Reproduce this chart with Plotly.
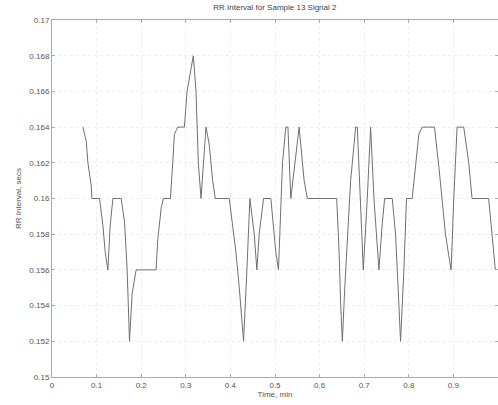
import plotly.graph_objects as go

time_min = [0.0694, 0.0768, 0.0805, 0.0880, 0.0895, 0.1066, 0.1141, 0.1193, 0.1253, 0.1305,
            0.1365, 0.1551, 0.1626, 0.1685, 0.1738, 0.1797, 0.1887,
            0.2334, 0.2371, 0.2450, 0.2498, 0.2655, 0.2707, 0.2744, 0.2819, 0.2968, 0.3028,
            0.3169, 0.3229, 0.3281, 0.3341, 0.3453, 0.3527, 0.3602, 0.3661,
            0.3975, 0.4049, 0.4124, 0.4199, 0.4295, 0.4370, 0.4437, 0.4534, 0.4593, 0.4646,
            0.4743, 0.4907, 0.5018, 0.5078, 0.5130, 0.5168, 0.5242,
            0.5290, 0.5354, 0.5541, 0.5653, 0.5727, 0.6383, 0.6436, 0.6473, 0.6510, 0.6562,
            0.6622, 0.6696, 0.6756, 0.6808, 0.6845,
            0.6980, 0.7069, 0.7144, 0.7219, 0.7330, 0.7405, 0.7458, 0.7629, 0.7703, 0.7755,
            0.7815, 0.7890, 0.7949, 0.8076, 0.8151, 0.8225, 0.8300,
            0.8576, 0.8673, 0.8747, 0.8822, 0.8896, 0.8949, 0.9008, 0.9083, 0.9232, 0.9344,
            0.9418, 0.9791, 0.9866, 0.9940]
rr_secs = [0.164, 0.1632, 0.162, 0.1607, 0.160, 0.160, 0.1585, 0.157, 0.156, 0.1585,
           0.160, 0.160, 0.1587, 0.156, 0.152, 0.1547, 0.156,
           0.156, 0.1577, 0.1595, 0.160, 0.160, 0.162, 0.1636, 0.164, 0.164, 0.166,
           0.168, 0.166, 0.162, 0.160, 0.164, 0.163, 0.161, 0.160,
           0.160, 0.1585, 0.157, 0.155, 0.152, 0.156, 0.160, 0.158, 0.156, 0.158,
           0.160, 0.160, 0.157, 0.156, 0.1595, 0.162, 0.164,
           0.164, 0.160, 0.164, 0.161, 0.160, 0.160, 0.1571, 0.154, 0.152, 0.1549,
           0.1579, 0.161, 0.1626, 0.164, 0.164,
           0.156, 0.160, 0.164, 0.160, 0.156, 0.1586, 0.160, 0.160, 0.158, 0.1553,
           0.152, 0.156, 0.160, 0.160, 0.162, 0.1636, 0.164,
           0.164, 0.1618, 0.160, 0.158, 0.1568, 0.156, 0.160, 0.164, 0.164, 0.162,
           0.160, 0.160, 0.158, 0.156]

x_ticks = [0, 0.1, 0.2, 0.3, 0.4, 0.5, 0.6, 0.7, 0.8, 0.9, 1]
x_labels = ["0", "0.1", "0.2", "0.3", "0.4", "0.5", "0.6", "0.7", "0.8", "0.9", "1"]
y_ticks = [0.15, 0.152, 0.154, 0.156, 0.158, 0.16, 0.162, 0.164, 0.166, 0.168, 0.17]
y_labels = ["0.15", "0.152", "0.154", "0.156", "0.158", "0.16", "0.162", "0.164", "0.166", "0.168", "0.17"]

fig = go.Figure()
fig.add_trace(go.Scatter(x=time_min, y=rr_secs, mode="lines",
                         line=dict(color="#707070", width=1), showlegend=False))

font = dict(family="Liberation Sans, Arial, sans-serif", size=8, color="#555555")
axis_common = dict(showline=True, linecolor="#aaaaaa", linewidth=1, mirror="ticks",
                   ticks="inside", ticklen=3, tickcolor="#aaaaaa",
                   showgrid=True, gridcolor="#ececec", griddash="dot", gridwidth=1,
                   zeroline=False, tickfont=font, automargin=False)

fig.update_layout(
    width=498, height=405,
    margin=dict(l=52, r=0, t=20, b=28),
    paper_bgcolor="white", plot_bgcolor="white",
    title=dict(text="RR Interval for Sample 13 Signal 2", x=0.552, xanchor="center",
               y=0.988, yanchor="top",
               font=dict(family="Liberation Sans, Arial, sans-serif", size=8, color="#444444")),
    xaxis=dict(range=[0, 1], tickvals=x_ticks, ticktext=x_labels,
               title=dict(text="Time, min", standoff=1, font=font), **axis_common),
    yaxis=dict(range=[0.15, 0.17], tickvals=y_ticks, ticktext=y_labels,
               title=dict(text="RR Interval, secs", standoff=6, font=font), **axis_common),
)

fig.write_html("out.html", config={"displayModeBar": False},
               post_script="document.body.style.margin='0';document.body.style.overflow='hidden';")
